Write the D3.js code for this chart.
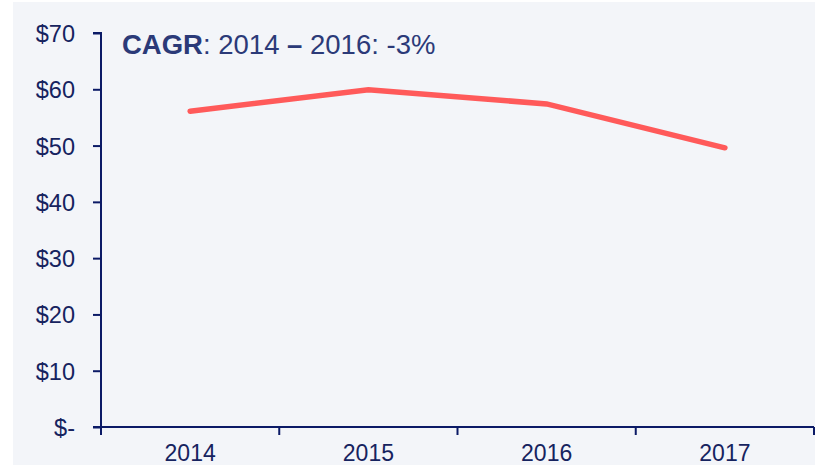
<!DOCTYPE html>
<html><head><meta charset="utf-8">
<script src="https://cdn.jsdelivr.net/npm/d3@7"></script>
<style>
html,body{margin:0;padding:0;background:#fff;}
svg{display:block;font-family:"Liberation Sans",Arial,sans-serif;}
</style></head>
<body><svg id="c" width="815" height="465"></svg>
<script>
const years = ["2014","2015","2016","2017"];
const values = [56.1, 59.9, 57.4, 49.6];
const yTicks = [0,10,20,30,40,50,60,70];
const yTickLabels = ["$-","$10","$20","$30","$40","$50","$60","$70"];
const titleBold = "CAGR";
const titleParts = [": 2014 ", "\u2013", " 2016: -3%"];

const svg = d3.select("#c");
const navy = "#0b1a66";
const textCol = "#16235f";
svg.append("rect").attr("x",13).attr("y",2).attr("width",802).attr("height",463).attr("fill","#f3f5f9");

const x = d3.scaleBand().domain(years).range([101,814]);
const y = d3.scaleLinear().domain([0,70]).range([427,33]);

// y axis
const ya = svg.append("g").attr("transform","translate(101,0)")
  .call(d3.axisLeft(y).tickValues(yTicks).tickSize(8).tickPadding(18)
  .tickFormat((d,i)=>yTickLabels[i]));
ya.select(".domain").attr("stroke",navy).attr("stroke-width",2).attr("d","M-8,33H0V427H-8");
ya.selectAll(".tick line").attr("stroke",navy).attr("stroke-width",2);
ya.selectAll(".tick text").attr("fill",textCol).style("font-size","23.5px").attr("dy","0.36em");

// x axis
const xa = svg.append("g").attr("transform","translate(0,427)")
  .call(d3.axisBottom(x).tickSize(0).tickPadding(18));
xa.select(".domain").attr("stroke",navy).attr("stroke-width",2).attr("d","M93,0H814");
xa.selectAll(".tick text").attr("fill",textCol).style("font-size","23px").attr("dy","0.71em");
const bounds = years.map(d=>x(d)).concat([x.range()[1]]);
xa.selectAll(".bt").data(bounds).enter().append("line").attr("class","bt")
  .attr("x1",d=>d).attr("x2",d=>d).attr("y1",0).attr("y2",8).attr("stroke",navy).attr("stroke-width",2);

// line
const line = d3.line().x((d,i)=>x(years[i])+x.bandwidth()/2).y(d=>y(d));
svg.append("path").datum(values).attr("d",line).attr("fill","none")
  .attr("stroke","#ff5a5a").attr("stroke-width",5.5).attr("stroke-linecap","round").attr("stroke-linejoin","miter");

// title
const t = svg.append("text").attr("x",122).attr("y",54).attr("fill","#2b3a78").style("font-size","27.5px");
t.append("tspan").attr("font-weight","bold").text(titleBold);
t.append("tspan").text(titleParts[0]);
t.append("tspan").attr("font-weight","bold").text(titleParts[1]);
t.append("tspan").text(titleParts[2]);
</script></body></html>
